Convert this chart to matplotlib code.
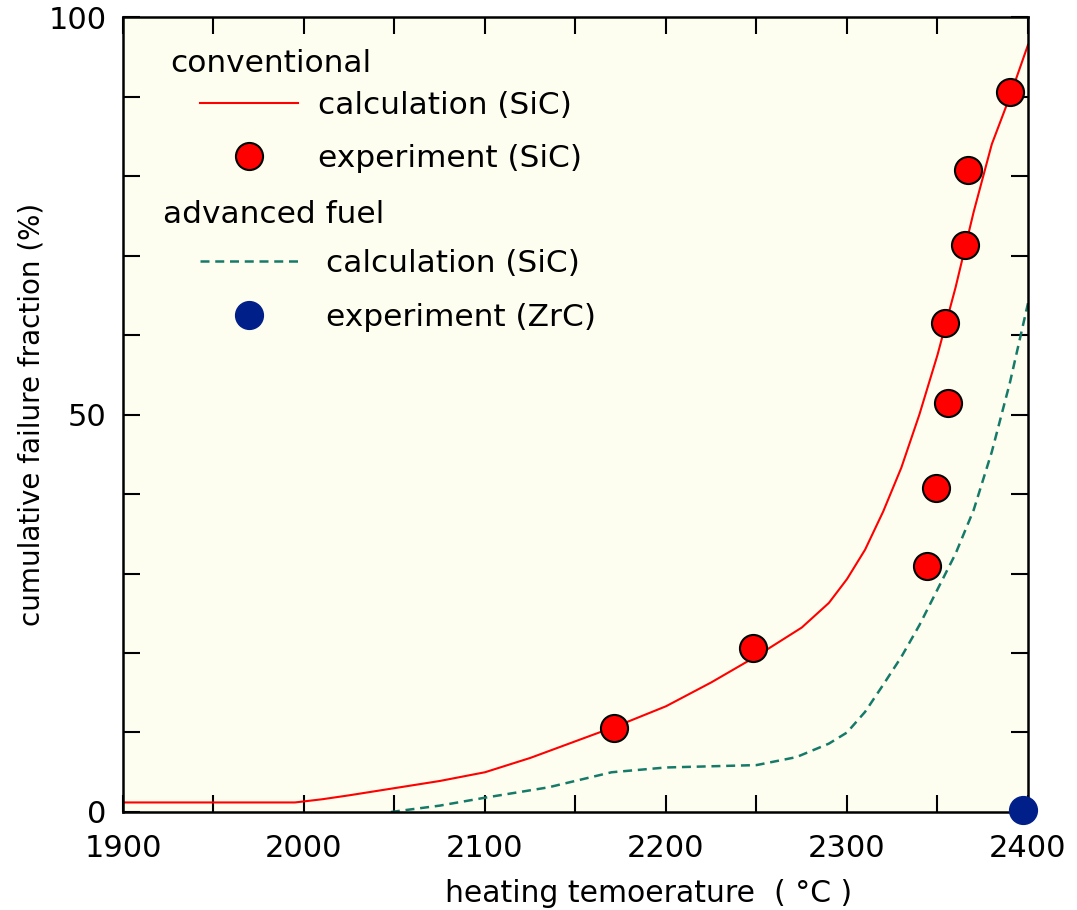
import matplotlib
matplotlib.use("Agg")
import matplotlib.pyplot as plt
from matplotlib.lines import Line2D
from matplotlib.ticker import MultipleLocator

# calculated cumulative failure fraction, conventional fuel (SiC)
conv_calc_t = [1900, 1995, 2010, 2025, 2050, 2075, 2100, 2125, 2150, 2175, 2200,
               2225, 2250, 2275, 2290, 2300, 2310, 2320, 2330, 2340, 2350, 2360,
               2370, 2380, 2390, 2400]
conv_calc_f = [1.2, 1.2, 1.6, 2.1, 3.0, 3.9, 5.0, 6.8, 8.9, 11.0, 13.3,
               16.3, 19.6, 23.2, 26.3, 29.3, 33.0, 37.8, 43.3, 50.0, 57.5, 66.0,
               75.5, 84.0, 90.0, 96.5]

# calculated, advanced fuel (SiC)
adv_calc_t = [2048, 2075, 2100, 2135, 2170, 2200, 2250, 2272, 2290, 2300, 2310,
              2320, 2330, 2340, 2350, 2360, 2370, 2380, 2390, 2400]
adv_calc_f = [0.0, 0.8, 1.8, 3.1, 5.0, 5.6, 5.9, 6.9, 8.6, 10.0, 12.6,
              16.0, 19.5, 23.5, 28.0, 32.5, 38.0, 45.3, 54.0, 64.0]

# experiments
exp_sic_t = [2171, 2248, 2344, 2349, 2356, 2354, 2365, 2367, 2390]
exp_sic_f = [10.6, 20.6, 30.9, 40.8, 51.4, 61.5, 71.3, 80.8, 90.6]
exp_zrc_t = [2397]
exp_zrc_f = [0.2]

RED = "#ff0000"
TEAL = "#167a68"
NAVY = "#001f88"
FS_TICK = 22
FS_LEG = 22.5
DASH = (3.6, 2.3)

plt.rcParams["font.family"] = ["DejaVu Sans"]

fig = plt.figure(figsize=(10.77, 9.10), dpi=100)
ax = fig.add_axes([0.1142, 0.1077, 0.8403, 0.8736])
ax.set_facecolor("#fefef0")

ax.plot(conv_calc_t, conv_calc_f, color=RED, lw=1.5, zorder=2)
ax.plot(adv_calc_t, adv_calc_f, color=TEAL, lw=1.8, dashes=DASH, zorder=2)
ax.plot(exp_sic_t, exp_sic_f, ls="none", marker="o", ms=19.5, mfc=RED,
        mec="black", mew=1.5, zorder=3, clip_on=False)
ax.plot(exp_zrc_t, exp_zrc_f, ls="none", marker="o", ms=20, mfc=NAVY,
        mec=NAVY, mew=1, zorder=4, clip_on=False)

ax.set_xlim(1900, 2400)
ax.set_ylim(0, 100)
ax.xaxis.set_major_locator(MultipleLocator(100))
ax.xaxis.set_minor_locator(MultipleLocator(50))
ax.yaxis.set_major_locator(MultipleLocator(50))
ax.yaxis.set_minor_locator(MultipleLocator(10))
ax.tick_params(which="both", direction="in", top=True, right=True,
               length=12, width=1.5, labelsize=FS_TICK)
ax.tick_params(axis="x", pad=16)
ax.tick_params(axis="y", pad=12)
for sp in ax.spines.values():
    sp.set_linewidth(1.8)

ax.set_xlabel("heating temoerature  ( °C )", fontsize=21.5)
ax.xaxis.set_label_coords(0.581, -0.084)
ax.set_ylabel("cumulative failure fraction (%)", fontsize=20)
ax.yaxis.set_label_coords(-0.086, 0.5)

# legend: two groups with headers
ax.text(0.052, 0.941, "conventional", transform=ax.transAxes, fontsize=FS_LEG,
        ha="left", va="center")
ax.text(0.044, 0.752, "advanced fuel", transform=ax.transAxes, fontsize=FS_LEG,
        ha="left", va="center")

h1 = [Line2D([], [], color=RED, lw=1.5),
      Line2D([], [], ls="none", marker="o", ms=19.5, mfc=RED, mec="black", mew=1.5)]
leg1 = ax.legend(h1, ["calculation (SiC)", "experiment (SiC)"], loc="upper left",
                 bbox_to_anchor=(0.085, 0.907), frameon=False, fontsize=FS_LEG,
                 handlelength=3.14, handletextpad=0.64, labelspacing=0.78,
                 borderpad=0, borderaxespad=0)
ax.add_artist(leg1)

h2 = [Line2D([], [], color=TEAL, lw=1.8, dashes=DASH),
      Line2D([], [], ls="none", marker="o", ms=20, mfc=NAVY, mec=NAVY)]
ax.legend(h2, ["calculation (SiC)", "experiment (ZrC)"], loc="upper left",
          bbox_to_anchor=(0.085, 0.708), frameon=False, fontsize=FS_LEG,
          handlelength=3.14, handletextpad=0.9, labelspacing=0.78,
          borderpad=0, borderaxespad=0)

fig.savefig("out.png", dpi=100, facecolor="white")
